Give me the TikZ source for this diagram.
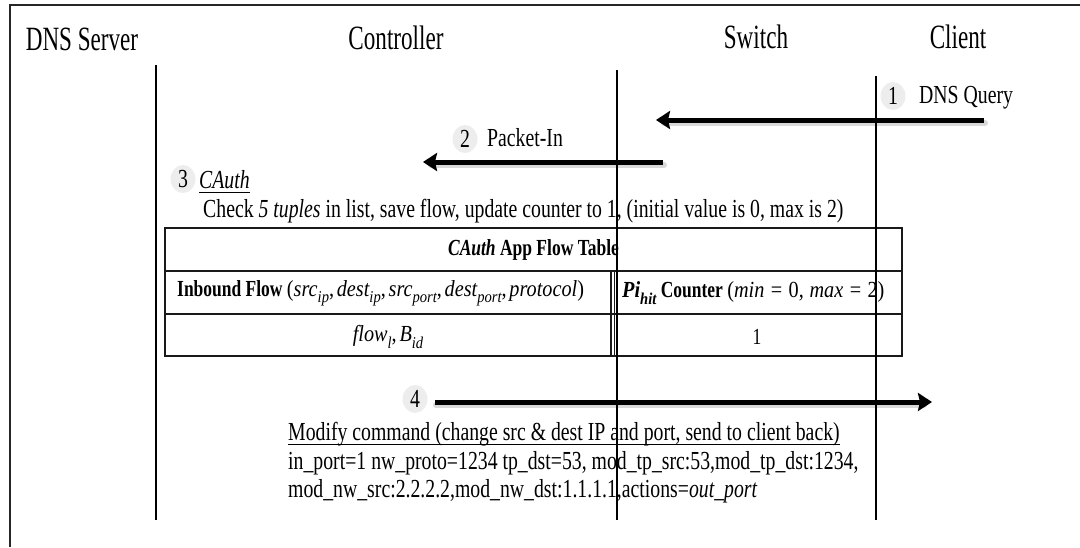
\documentclass[tikz,border=0pt]{standalone}
\usepackage{fontspec}
\setmainfont{Liberation Serif}[FakeStretch=0.76]
\newfontfamily\headfont{Liberation Serif}[FakeStretch=0.68]
\newfontfamily\mfont{Liberation Serif}[FakeStretch=0.88]
\usepackage{graphicx}
\usetikzlibrary{arrows.meta,shapes.geometric}

% lowered, smaller text for subscripts
\newcommand\sbs[1]{\raisebox{-0.28em}{\scalebox{0.72}{#1}}}
% italic variable names
\newcommand\mv[1]{{\mfont\itshape #1}}
% narrow gap after commas in formulas
\newcommand\cm{,\hspace{0.12em}}
% relation sign with its spacing
\newcommand\eqs{\hspace{0.28em}=\hspace{0.28em}}

\tikzset{
  head/.style={anchor=base, inner sep=0pt, font=\headfont\fontsize{34}{40}\selectfont},
  body/.style={anchor=base west, inner sep=0pt, font=\fontsize{26}{30}\selectfont},
  cell/.style={inner sep=0pt, font=\fontsize{23}{27}\selectfont},
  lifeline/.style={line width=1.8pt, black},
  frameline/.style={line width=1.8pt, black!85},
  tabline/.style={line width=1.8pt, black!90},
  dblline/.style={line width=1.1pt, black!90},
  msg/.style={line width=5pt, black, -{Stealth[length=14pt,width=18pt,inset=2pt]}},
  msgshadow/.style={line width=6pt, black, opacity=0.15, line cap=round},
  stepnum/.style={ellipse, fill=black!7, minimum width=25pt, minimum height=28pt,
    inner sep=0pt, font=\fontsize{26}{30}\selectfont},
  uline/.style={line width=1pt, black}
}

\begin{document}
\begin{tikzpicture}[x=1pt, y=-1pt]
\useasboundingbox (0,0) rectangle (1080,547);

% outer frame
\draw[frameline] (10,547) -- (10,5) -- (1080,5);

% participants
\node[head] (dns)  at (82,50)  {DNS Server};
\node[head] (ctrl) at (396,49) {Controller};
\node[head] (sw)   at (756,48) {Switch};
\node[head] (cli)  at (958,48) {Client};

% lifeline end points
\coordinate (ctrlTop) at (156,65);  \coordinate (ctrlBot) at (156,520);
\coordinate (swTop)   at (617,70);  \coordinate (swBot)   at (617,520);
\coordinate (cliTop)  at (876,76);  \coordinate (cliBot)  at (876,520);

% message end points
\coordinate (m1s) at (984,120); \coordinate (m1e) at (656,120);
\coordinate (m2s) at (663,162); \coordinate (m2e) at (423,162);
\coordinate (m4s) at (435,402); \coordinate (m4e) at (932,402);

% step 1
\node[stepnum] (n1) at (893,96) {1};
\node[body] (q1) at (919,103) {DNS Query};

% step 2
\node[stepnum] (n2) at (465,139) {2};
\node[body] (p2) at (487,146) {Packet-In};

% step 3
\node[stepnum] (n3) at (183,179) {3};
\node[body] (c3) at (199,188) {\itshape CAuth};
\draw[uline] ([yshift=-4pt]c3.base west) -- ([yshift=-4pt]c3.base east);
\node[body] (chk) at (203,217) {Check \textit{5 tuples} in list, save flow, update counter to 1, (initial value is 0, max is 2)};

% flow table
\draw[tabline] (165,228) rectangle (902,356);
\draw[tabline] (165,271) -- (902,271);
\draw[tabline] (165,314) -- (902,314);
\draw[dblline] (611,271) -- (611,356);
\draw[dblline] (614.5,271) -- (614.5,356);
\node[cell] (ttl) at (533.5,250) {\bfseries\itshape CAuth\upshape\ App Flow Table};
\node[cell, anchor=west] (inb) at (177,293)
  {\bfseries Inbound Flow {\mdseries\mfont (\mv{src\sbs{ip}}\cm\mv{dest\sbs{ip}}\cm\mv{src\sbs{port}}\cm\mv{dest\sbs{port}}\cm\mv{protocol})}};
\node[cell, anchor=west] (pih) at (622,293)
  {{\mfont\bfseries\itshape Pi\sbs{hit}} \textbf{Counter} {\mfont (\mv{min}\eqs 0,\hspace{0.25em}\mv{max}\eqs 2)}};
\node[cell] (flw) at (388,337) {\mv{flow\sbs{l}}{\mfont\cm}\mv{B\sbs{id}}};
\node[cell] (cnt) at (757,337) {1};

% step 4
\node[stepnum] (n4) at (415,399) {4};
\node[body] (mod) at (288,440) {Modify command (change src \& dest IP and port, send to client back)};
\draw[uline] ([yshift=-4pt]mod.base west) -- ([yshift=-4pt]mod.base east);
\node[body] (ln2) at (288,469) {in\_port=1 nw\_proto=1234 tp\_dst=53, mod\_tp\_src:53,mod\_tp\_dst:1234,};
\node[body] (ln3) at (288,497) {mod\_nw\_src:2.2.2.2,mod\_nw\_dst:1.1.1.1,actions=\textit{out\_port}};

% messages
\draw[msgshadow] ([shift={(1,3)}]m1s) -- ([shift={(8,3)}]m1e);
\draw[msgshadow] ([shift={(1,3)}]m2s) -- ([shift={(8,3)}]m2e);
\draw[msgshadow] ([shift={(1,3)}]m4s) -- ([shift={(-8,3)}]m4e);
\draw[msg] (m1s) -- (m1e);
\draw[msg] (m2s) -- (m2e);
\draw[msg] (m4s) -- (m4e);

% lifelines
\draw[lifeline] (ctrlTop) -- (ctrlBot);
\draw[lifeline] (swTop) -- (swBot);
\draw[lifeline] (cliTop) -- (cliBot);
\end{tikzpicture}
\end{document}
